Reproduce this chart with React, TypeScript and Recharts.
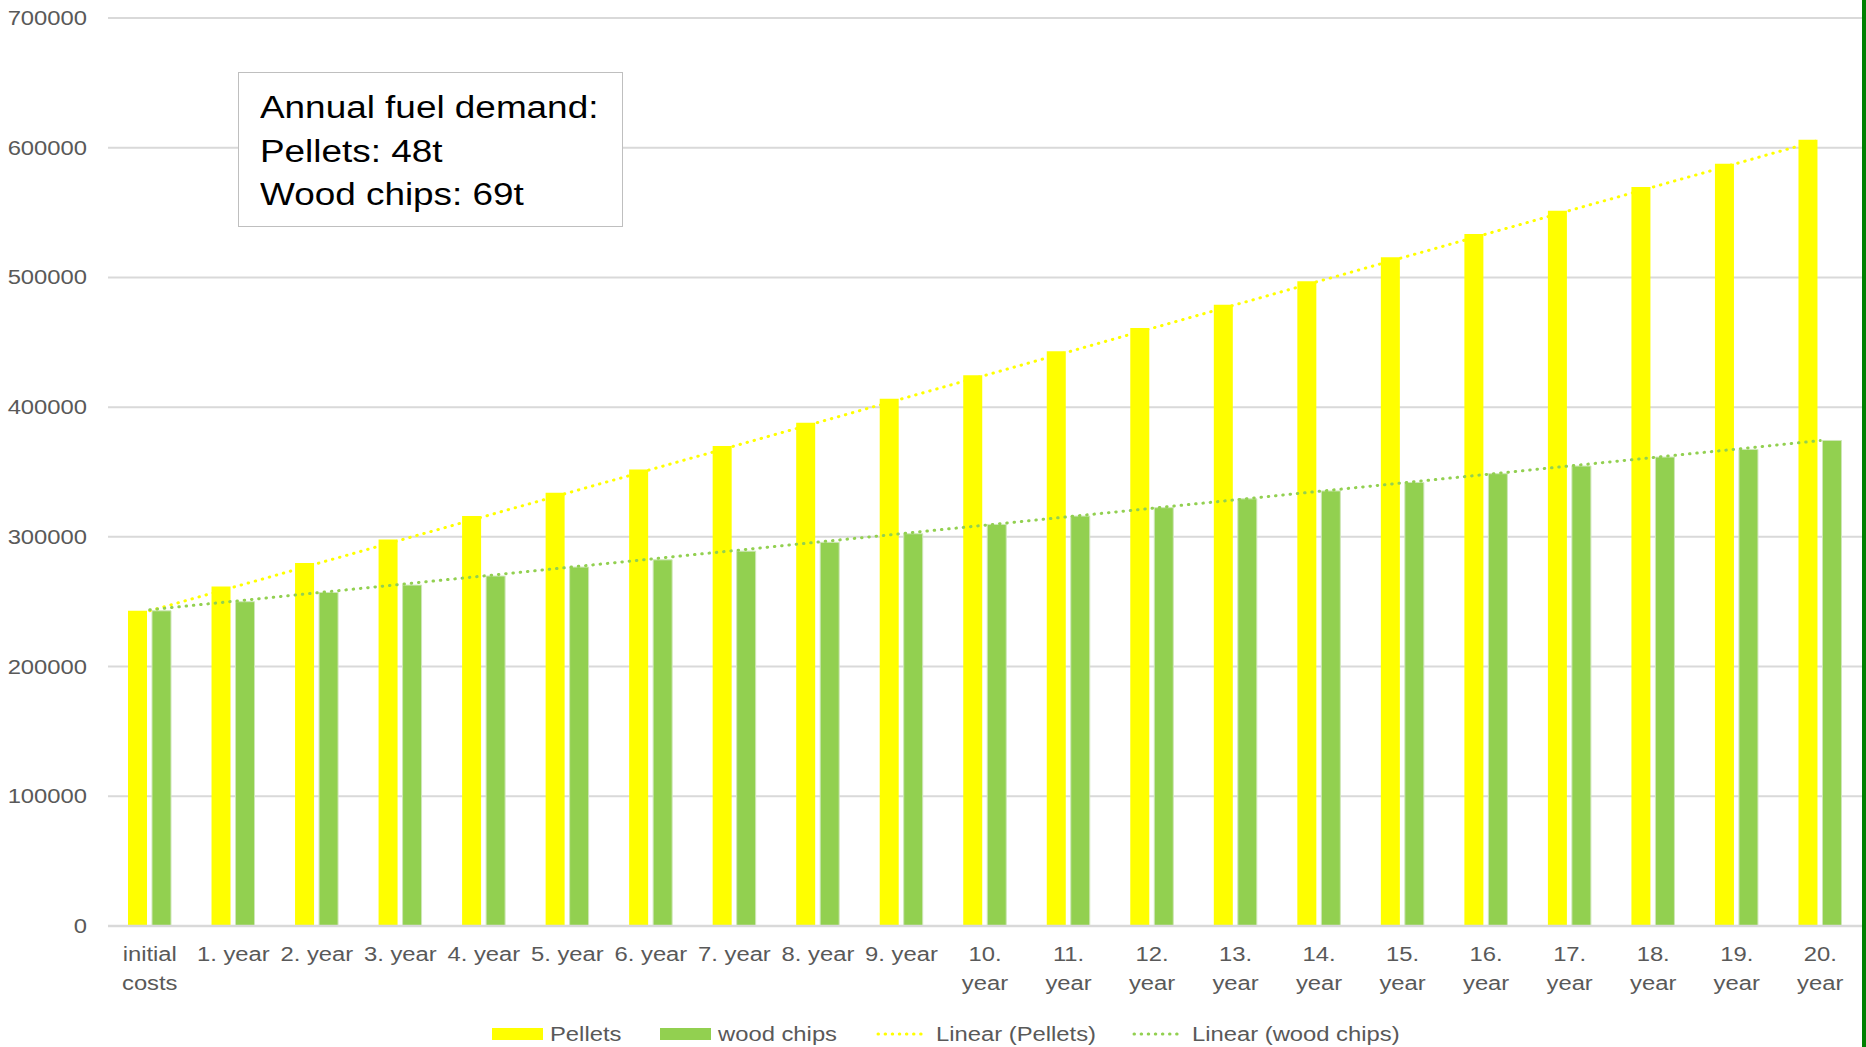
import { ComposedChart, Bar, Line, XAxis, YAxis, CartesianGrid } from 'recharts'

const FONT = '"Liberation Sans", Arial, sans-serif'
const STRETCH = 1.19
const AXIS_TEXT = '#595959'
const YELLOW = '#FFFF00'
const GREEN = '#92D050'

const categories = [
  'initial costs', '1. year', '2. year', '3. year', '4. year', '5. year', '6. year',
  '7. year', '8. year', '9. year', '10. year', '11. year', '12. year', '13. year',
  '14. year', '15. year', '16. year', '17. year', '18. year', '19. year', '20. year',
]

const pellets = [
  243000, 261800, 279800, 298000, 316000, 334000, 352000, 370000, 388000, 406500,
  424500, 443000, 461000, 479000, 497000, 515500, 533500, 551500, 569700, 587700, 606200,
]

const woodChips = [
  243000, 250000, 257100, 262800, 269800, 276700, 282300, 289000, 295800, 302400,
  309600, 316000, 322500, 329300, 335400, 341900, 348700, 354600, 361500, 367400, 374300,
]

// linear trend values at the first and last category
const pelletsTrend = [243000, 606000]
const woodChipsTrend = [243800, 374200]

const yTicks = [0, 100000, 200000, 300000, 400000, 500000, 600000, 700000]

const noteLines = ['Annual fuel demand:', 'Pellets: 48t', 'Wood chips: 69t']

const last = categories.length - 1
const data = categories.map((name, i) => ({
  name,
  pellets: pellets[i],
  woodChips: woodChips[i],
  pelletsTrend: i === 0 ? pelletsTrend[0] : i === last ? pelletsTrend[1] : null,
  woodChipsTrend: i === 0 ? woodChipsTrend[0] : i === last ? woodChipsTrend[1] : null,
}))

const legendItems = [
  { kind: 'bar', color: YELLOW, label: 'Pellets', x: 492 },
  { kind: 'bar', color: GREEN, label: 'wood chips', x: 660 },
  { kind: 'line', color: YELLOW, label: 'Linear (Pellets)', x: 877 },
  { kind: 'line', color: GREEN, label: 'Linear (wood chips)', x: 1133 },
]

function XTick({ x, y, payload }: any) {
  const label: string = payload.value
  const lines = label.length > 7 ? label.split(' ') : [label]
  return (
    <g transform={`translate(${x},${y}) scale(${STRETCH},1)`}>
      {lines.map((l, i) => (
        <text key={i} x={0} y={35 + i * 29} textAnchor="middle" fontSize={20} fill={AXIS_TEXT} fontFamily={FONT}>{l}</text>
      ))}
    </g>
  )
}

function YTick({ x, y, payload }: any) {
  return (
    <g transform={`translate(${x - 21},${y}) scale(${STRETCH},1)`}>
      <text x={0} y={7} textAnchor="end" fontSize={20} fill={AXIS_TEXT} fontFamily={FONT}>{payload.value}</text>
    </g>
  )
}

function ChartLegend() {
  return (
    <svg width={1866} height={42} style={{ position: 'absolute', left: 0, top: 1005 }}>
      {legendItems.map(it => {
        const sw = it.kind === 'bar' ? 51 : 50
        return (
          <g key={it.label}>
            {it.kind === 'bar'
              ? <rect x={it.x} y={23} width={sw} height={12} fill={it.color} />
              : <line x1={it.x + 1} x2={it.x + sw} y1={29} y2={29} stroke={it.color} strokeWidth={3}
                  strokeDasharray="0.5 6.6" strokeLinecap="round" />}
            <g transform={`translate(${it.x + sw + (it.kind === 'bar' ? 7 : 9)},36) scale(${STRETCH},1)`}>
              <text fontSize={20} fill={AXIS_TEXT} fontFamily={FONT}>{it.label}</text>
            </g>
          </g>
        )
      })}
    </svg>
  )
}

function NoteBox() {
  return (
    <div style={{
      position: 'absolute', left: 238, top: 72, width: 383, height: 140,
      border: '1.5px solid #bfbfbf', background: '#fff', fontFamily: FONT,
      fontSize: 31, lineHeight: '43.7px', color: '#000', paddingTop: 13, boxSizing: 'content-box',
    }}>
      {noteLines.map(t => (
        <div key={t} style={{ paddingLeft: 21, whiteSpace: 'nowrap' }}>
          <span style={{ display: 'inline-block', transform: `scaleX(${STRETCH})`, transformOrigin: 'left' }}>{t}</span>
        </div>
      ))}
    </div>
  )
}

export default function App() {
  return (
    <div style={{ position: 'absolute', left: 0, top: 0, width: 1866, height: 1047, background: '#fff', overflow: 'hidden' }}>
      <ComposedChart width={1866} height={1047} data={data}
        margin={{ top: 18, right: 4, bottom: 61, left: 0 }} barSize={19} barGap={5}>
        <CartesianGrid vertical={false} stroke="#d9d9d9" strokeWidth={2} />
        <XAxis dataKey="name" height={60} interval={0} tickLine={false} tickSize={0} tickMargin={0}
          axisLine={{ stroke: '#d9d9d9', strokeWidth: 2.5 }} tick={<XTick />} />
        <YAxis width={108} domain={[0, 700000]} ticks={yTicks} axisLine={false} tickLine={false}
          tickSize={0} tickMargin={0} tick={<YTick />} />
        <Bar dataKey="pellets" fill={YELLOW} isAnimationActive={false} />
        <Bar dataKey="woodChips" fill={GREEN} stroke="#cfe6b9" strokeWidth={1} isAnimationActive={false} />
        <Line dataKey="pelletsTrend" stroke={YELLOW} strokeWidth={3} strokeDasharray="0.5 6.8" strokeLinecap="round"
          dot={false} connectNulls isAnimationActive={false} />
        <Line dataKey="woodChipsTrend" stroke={GREEN} strokeWidth={3} strokeDasharray="0.5 6.8" strokeLinecap="round"
          dot={false} connectNulls isAnimationActive={false} />
      </ComposedChart>
      <NoteBox />
      <ChartLegend />
      <div style={{ position: 'absolute', left: 1862, top: 0, width: 4, height: 1047, background: '#008000' }} />
    </div>
  )
}
